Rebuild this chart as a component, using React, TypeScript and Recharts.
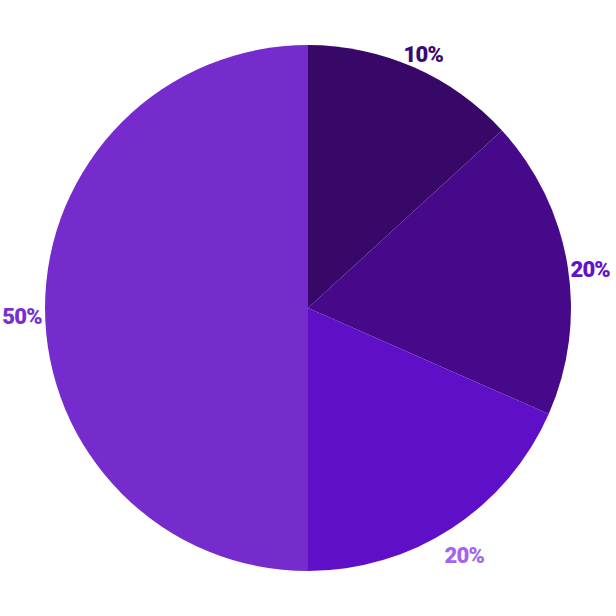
import { PieChart, Pie, Cell } from "recharts";

const shares = [13.2, 18.4, 18.4, 50];
const labels = ["10%", "20%", "20%", "50%"];
const sliceColors = ["#370868", "#45098a", "#600fc8", "#762ccd"];
const labelColors = ["#3a0a70", "#6212cc", "#a263f2", "#7630d2"];

const data = shares.map((v, i) => ({ name: labels[i], value: v }));

const RADIAN = Math.PI / 180;

function renderLabel(props: any) {
  const { cx, cy, midAngle, outerRadius, index } = props;
  const r = outerRadius + 23;
  const x = cx + r * Math.cos(-midAngle * RADIAN);
  const y = cy + r * Math.sin(-midAngle * RADIAN);
  return (
    <text
      x={x}
      y={y}
      dy={8}
      fill={labelColors[index]}
      textAnchor="middle"
      dominantBaseline="central"
      style={{ fontFamily: "Roboto", fontWeight: 900, fontSize: 22, letterSpacing: -0.8 }}
    >
      {labels[index]}
    </text>
  );
}

export default function App() {
  return (
    <div style={{ position: "fixed", left: 0, top: 0, width: 616, height: 616, background: "#fff" }}>
      <PieChart width={616} height={616} margin={{ top: 0, right: 0, bottom: 0, left: 0 }}>
        <Pie
          data={data}
          dataKey="value"
          cx={308}
          cy={308}
          outerRadius={263}
          startAngle={90}
          endAngle={-270}
          stroke="none"
          label={renderLabel}
          labelLine={false}
          isAnimationActive={false}
        >
          {data.map((d, i) => (
            <Cell key={d.name + i} fill={sliceColors[i]} />
          ))}
        </Pie>
      </PieChart>
    </div>
  );
}
